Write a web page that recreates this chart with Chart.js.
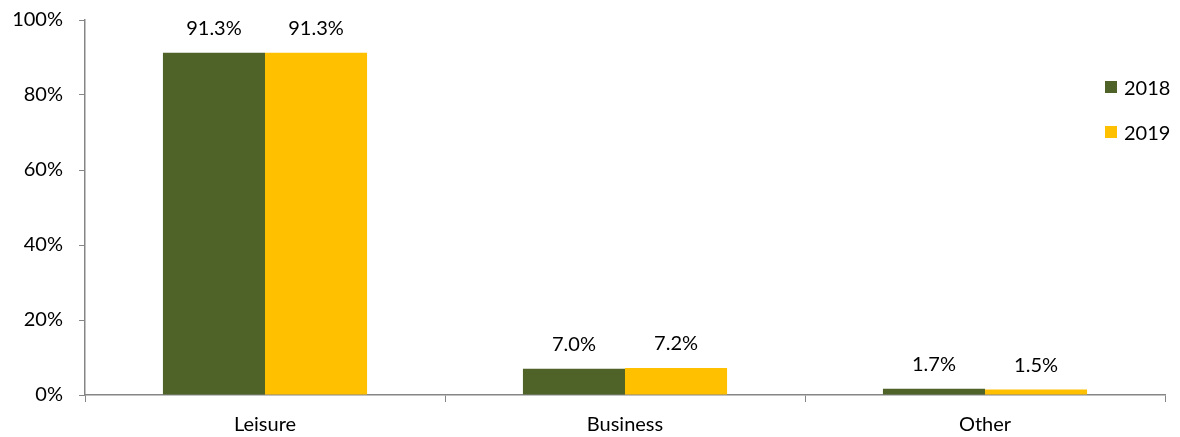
<!DOCTYPE html>
<html>
<head>
<meta charset="utf-8">
<script src="https://cdn.jsdelivr.net/npm/chart.js@4.4.1/dist/chart.umd.min.js"></script>
<style>
  html, body { margin: 0; padding: 0; background: #fff; }
  .wrap { position: relative; width: 1180px; height: 437px; }
  #legend { position: absolute; left: 1105px; top: 75px; font-family: Lato, sans-serif; font-size: 20px; color: #000; }
  #legend div { display: flex; align-items: center; height: 24px; margin-bottom: 21px; }
  #legend span.box { display: inline-block; width: 12px; height: 12px; margin-right: 7px; }
</style>
</head>
<body>
<div class="wrap">
  <canvas id="purposeChart" width="1180" height="437"></canvas>
  <div id="legend"></div>
</div>
<script>
const categories = ["Leisure", "Business", "Other"];
const years = ["2018", "2019"];
const share2018 = [91.3, 7.0, 1.7];
const share2019 = [91.3, 7.2, 1.5];
const yTicks = [0, 20, 40, 60, 80, 100];

const colors = ["#4F6228", "#FFC000"];
const axisGrey = "#868686";
const fontName = "Lato, sans-serif";

// labels over the bars
const barLabels = {
  id: "barLabels",
  afterDatasetsDraw(chart) {
    const ctx = chart.ctx;
    ctx.save();
    ctx.font = "20px " + fontName;
    ctx.fillStyle = "#000";
    ctx.textAlign = "center";
    ctx.textBaseline = "bottom";
    chart.data.datasets.forEach((ds, i) => {
      chart.getDatasetMeta(i).data.forEach((bar, j) => {
        ctx.fillText(ds.data[j].toFixed(1) + "%", bar.x, bar.y - 14);
      });
    });
    ctx.restore();
  }
};

const chart = new Chart(document.getElementById("purposeChart"), {
  type: "bar",
  data: {
    labels: categories,
    datasets: [
      { label: years[0], data: share2018, backgroundColor: colors[0] },
      { label: years[1], data: share2019, backgroundColor: colors[1] }
    ]
  },
  options: {
    responsive: false,
    animation: false,
    layout: { padding: { top: 20, right: 15, left: 0, bottom: 0 } },
    datasets: { bar: { categoryPercentage: 0.567, barPercentage: 1.0 } },
    plugins: {
      legend: { display: false },
      tooltip: { enabled: false }
    },
    scales: {
      x: {
        offset: true,
        grid: { offset: true, drawOnChartArea: false, color: axisGrey, tickLength: 7 },
        border: { color: axisGrey, width: 1.5 },
        ticks: { color: "#000", font: { family: fontName, size: 20 }, padding: 11 },
        afterFit(scale) { scale.height = 42; }
      },
      y: {
        min: 0,
        max: 100,
        afterBuildTicks(scale) { scale.ticks = yTicks.map(v => ({ value: v })); },
        grid: { drawOnChartArea: false, color: axisGrey, tickLength: 6 },
        border: { color: axisGrey, width: 1.5 },
        ticks: {
          color: "#000",
          font: { family: fontName, size: 20 },
          padding: 16,
          callback: v => v + "%"
        },
        afterFit(scale) {
          scale.width = 85;
          scale.paddingTop = 0;
          scale.paddingBottom = 0;
        }
      }
    }
  },
  plugins: [barLabels]
});

// legend built from the chart's datasets
const legendEl = document.getElementById("legend");
chart.data.datasets.forEach(ds => {
  const row = document.createElement("div");
  const box = document.createElement("span");
  box.className = "box";
  box.style.background = ds.backgroundColor;
  row.appendChild(box);
  row.appendChild(document.createTextNode(ds.label));
  legendEl.appendChild(row);
});
</script>
</body>
</html>
